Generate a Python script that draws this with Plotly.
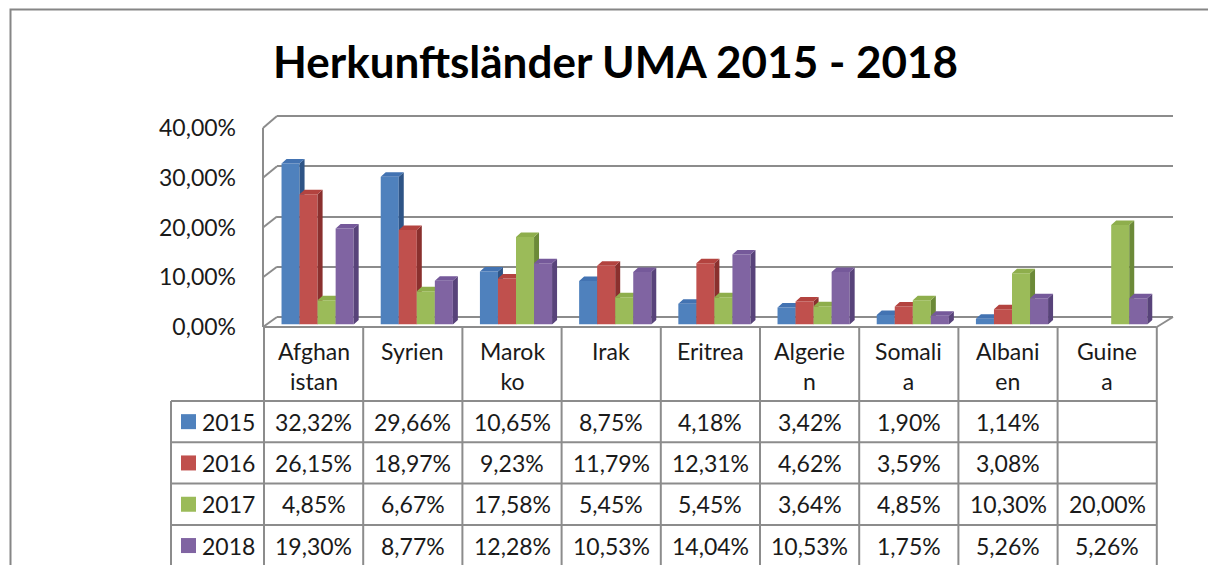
import plotly.graph_objects as go

# ---------------- data ----------------
categories = ["Afghanistan", "Syrien", "Marokko", "Irak", "Eritrea",
              "Algerien", "Somalia", "Albanien", "Guinea"]
cat_labels = ["Afghan<br>istan", "Syrien", "Marok<br>ko", "Irak", "Eritrea",
              "Algerie<br>n", "Somali<br>a", "Albani<br>en", "Guine<br>a"]
years = ["2015", "2016", "2017", "2018"]
v2015 = [32.32, 29.66, 10.65, 8.75, 4.18, 3.42, 1.90, 1.14, None]
v2016 = [26.15, 18.97, 9.23, 11.79, 12.31, 4.62, 3.59, 3.08, None]
v2017 = [4.85, 6.67, 17.58, 5.45, 5.45, 3.64, 4.85, 10.30, 20.00]
v2018 = [19.30, 8.77, 12.28, 10.53, 14.04, 10.53, 1.75, 5.26, 5.26]
series = [v2015, v2016, v2017, v2018]
y_ticks = [0, 10, 20, 30, 40]
title_text = "Herkunftsländer UMA 2015 - 2018"

# ---------------- style / geometry ----------------
front_col = ["#4F81BD", "#C0504D", "#9BBB59", "#8064A2"]
side_col = ["#2E5486", "#8A302E", "#6C8A38", "#58437A"]
top_col = ["#4373B2", "#B3433F", "#8EAE4C", "#75599A"]
FONT = "Lato"
TXT = "#1A1A1A"
LINE = "#8C8C8C"

W, H = 1208, 565
def fx(p): return p / W
def fy(p): return 1 - p / H

N = len(categories)
TBL_X0, COL_W = 264, 99.2
FRONT_RIGHT = TBL_X0 + N * COL_W
WALL_FX, WALL_BX, BACK_RIGHT = 263, 277, 1173
FLOOR_FY, FLOOR_BY = 327, 317
PX_FRONT, PX_BACK = 4.975, 5.025
BAR_X0, BAR_BASE, PX_BAR = 268, 324.5, 4.98
DEPTH_X, DEPTH_Y = 5, 4.5
BARGAP = 0.2727
HDR_BOTTOM, ROW_H, LEG_X0 = 401, 41.3, 171
FS = 23

def yf(v): return FLOOR_FY - v * PX_FRONT
def yb(v): return FLOOR_BY - v * PX_BACK

def pct(v):
    return "" if v is None else f"{v:.2f}".replace(".", ",") + "%"

ddx = DEPTH_X / COL_W
ddy = DEPTH_Y / PX_BAR
bw = (1 - BARGAP) / 4

fig = go.Figure()

# back wall subplot (gridlines only)
fig.add_trace(go.Scatter(x=[0.5], y=[0], mode="markers", marker=dict(opacity=0),
                         hoverinfo="skip", showlegend=False, xaxis="x", yaxis="y"))

xnames = ["x2", "x3", "x4", "x5"]
for k, vals in enumerate(series):
    off = -0.5 + BARGAP / 2 + k * bw
    xa = xnames[k]
    fig.add_trace(go.Bar(x=list(range(N)), y=vals, width=bw, offset=off,
                         marker=dict(color=front_col[k], line=dict(width=0)),
                         name=years[k], showlegend=False, xaxis=xa, yaxis="y2"))
    sx, sy, tx, ty = [], [], [], []
    for i, v in enumerate(vals):
        if v is None:
            continue
        l = i + off
        r = l + bw
        sx += [r, r + ddx, r + ddx, r, r, None]
        sy += [0, ddy, v + ddy, v, 0, None]
        tx += [l, l + ddx, r + ddx, r, l, None]
        ty += [v, v + ddy, v + ddy, v, v, None]
    fig.add_trace(go.Scatter(x=sx, y=sy, mode="lines", fill="toself",
                             fillcolor=side_col[k], line=dict(width=0, color=side_col[k]),
                             hoverinfo="skip", showlegend=False, xaxis=xa, yaxis="y2"))
    fig.add_trace(go.Scatter(x=tx, y=ty, mode="lines", fill="toself",
                             fillcolor=top_col[k], line=dict(width=0, color=top_col[k]),
                             hoverinfo="skip", showlegend=False, xaxis=xa, yaxis="y2"))

# front value axis (labels)
fig.add_trace(go.Scatter(x=[0.5], y=[0], mode="markers", marker=dict(opacity=0),
                         hoverinfo="skip", showlegend=False, xaxis="x6", yaxis="y6"))

shapes = []
def seg(x0, y0, x1, y1, color=LINE, w=2):
    shapes.append(dict(type="line", xref="paper", yref="paper", layer="below",
                       x0=fx(x0), y0=fy(y0), x1=fx(x1), y1=fy(y1),
                       line=dict(color=color, width=w)))

# chart frame
shapes.append(dict(type="rect", xref="paper", yref="paper", layer="below",
                   x0=fx(10.5), y0=fy(9.5), x1=fx(W + 20), y1=fy(H + 20),
                   line=dict(color="#868686", width=2), fillcolor="rgba(0,0,0,0)"))
# side wall
seg(WALL_FX, yf(y_ticks[0]), WALL_FX, yf(y_ticks[-1]))
for v in y_ticks:
    seg(WALL_FX, yf(v), WALL_BX, yb(v))
# floor
seg(WALL_FX, FLOOR_FY, FRONT_RIGHT, FLOOR_FY)
seg(FRONT_RIGHT, FLOOR_FY, BACK_RIGHT, yb(0))
# table
TBL_BOTTOM = 575
for j in range(N + 1):
    seg(TBL_X0 + j * COL_W, FLOOR_FY, TBL_X0 + j * COL_W, TBL_BOTTOM)
seg(LEG_X0, HDR_BOTTOM, LEG_X0, TBL_BOTTOM)
for r in range(len(years) + 1):
    yy = HDR_BOTTOM + r * ROW_H
    seg(LEG_X0, yy, FRONT_RIGHT, yy)

annotations = []
annotations.append(dict(text="<b>" + title_text + "</b>", xref="paper", yref="paper",
                        x=fx(615.5), y=fy(61), xanchor="center", yanchor="middle",
                        showarrow=False, font=dict(family=FONT, size=44, color="#000000")))
for j, lab in enumerate(cat_labels):
    annotations.append(dict(text=lab, xref="paper", yref="paper",
                            x=fx(TBL_X0 + (j + 0.5) * COL_W), y=fy(336),
                            xanchor="center", yanchor="top", showarrow=False, borderpad=0,
                            font=dict(family=FONT, size=FS, color=TXT)))

for r, (yr, vals) in enumerate(zip(years, series)):
    yc = HDR_BOTTOM + (r + 0.5) * ROW_H
    shapes.append(dict(type="rect", xref="paper", yref="paper", layer="above",
                       x0=fx(181), x1=fx(196), y0=fy(yc - 7.5), y1=fy(yc + 7.5),
                       fillcolor=front_col[r], line=dict(width=0)))
    annotations.append(dict(text=yr, xref="paper", yref="paper", x=fx(200), y=fy(yc),
                            xanchor="left", yanchor="middle", showarrow=False,
                            font=dict(family=FONT, size=FS, color=TXT)))
    for j, v in enumerate(vals):
        if v is None:
            continue
        annotations.append(dict(text=pct(v), xref="paper", yref="paper",
                                x=fx(TBL_X0 + (j + 0.5) * COL_W), y=fy(yc),
                                xanchor="center", yanchor="middle", showarrow=False,
                                font=dict(family=FONT, size=FS, color=TXT)))

layout = dict(
    width=W, height=H, autosize=False,
    margin=dict(l=0, r=0, t=0, b=0, pad=0),
    paper_bgcolor="white", plot_bgcolor="rgba(0,0,0,0)",
    barmode="overlay", showlegend=False,
    shapes=shapes, annotations=annotations,
    xaxis=dict(domain=[fx(WALL_BX), fx(BACK_RIGHT)], range=[0, 1], visible=False, anchor="y"),
    yaxis=dict(domain=[fy(yb(-1)), fy(yb(41))], range=[-1, 41], anchor="x",
               tickvals=y_ticks, showticklabels=False, ticks="", showline=False,
               zeroline=False, showgrid=True, gridcolor=LINE, gridwidth=2, automargin=False),
    xaxis2=dict(domain=[fx(BAR_X0), fx(BAR_X0 + N * COL_W)], range=[-0.5, N - 0.5],
                visible=False, anchor="y2"),
    yaxis2=dict(domain=[fy(BAR_BASE), fy(BAR_BASE - 42 * PX_BAR)], range=[0, 42],
                visible=False, anchor="x2"),
    xaxis6=dict(domain=[fx(WALL_FX), fx(WALL_FX + 10)], range=[0, 1], visible=False, anchor="y6"),
    yaxis6=dict(domain=[fy(yf(-1)), fy(yf(41))], range=[-1, 41], anchor="x6", side="left",
                tickmode="array", tickvals=y_ticks, ticktext=[pct(v) for v in y_ticks],
                ticks="", showgrid=False, zeroline=False, showline=False,
                ticklabelstandoff=26, automargin=False,
                tickfont=dict(family=FONT, size=FS, color=TXT)),
)
for xa in ["xaxis3", "xaxis4", "xaxis5"]:
    layout[xa] = dict(overlaying="x2", range=[-0.5, N - 0.5], visible=False, anchor="y2")
fig.update_layout(**layout)

fig.write_html("out.html", config={"displayModeBar": False},
               post_script="document.body.style.margin='0';document.body.style.overflow='hidden';")
